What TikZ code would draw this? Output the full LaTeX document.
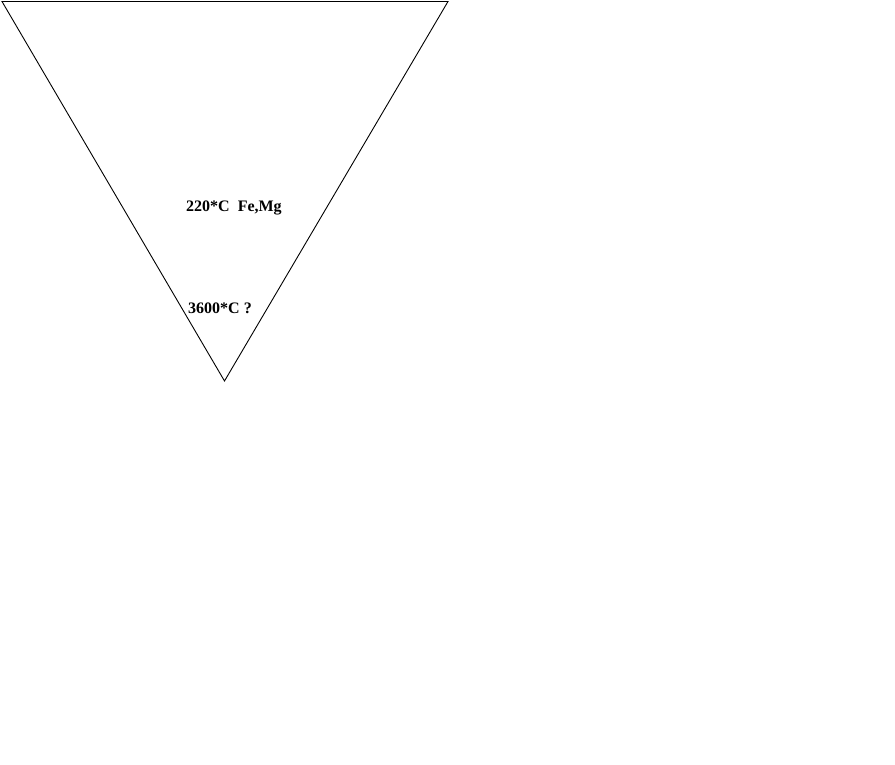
\documentclass[tikz,border=0pt]{standalone}
\usepackage{fontspec}
\setmainfont{Liberation Serif}
\begin{document}
\begin{tikzpicture}[x=1pt,y=-1pt,
  lbl/.style={anchor=base west,inner sep=0pt,font=\fontsize{16}{19}\selectfont\bfseries}]
\useasboundingbox (0,0) rectangle (895,764);
\coordinate (tl) at (2,1.5);
\coordinate (tr) at (448,1.5);
\coordinate (bt) at (224.5,381);
\draw[line width=0.9pt] (tl) -- (tr) -- (bt) -- cycle;
\node[lbl] (t1) at (186,211) {220*C\ \ Fe,Mg};
\node[lbl] (t2) at (188,313) {3600*C ?};
\end{tikzpicture}
\end{document}
